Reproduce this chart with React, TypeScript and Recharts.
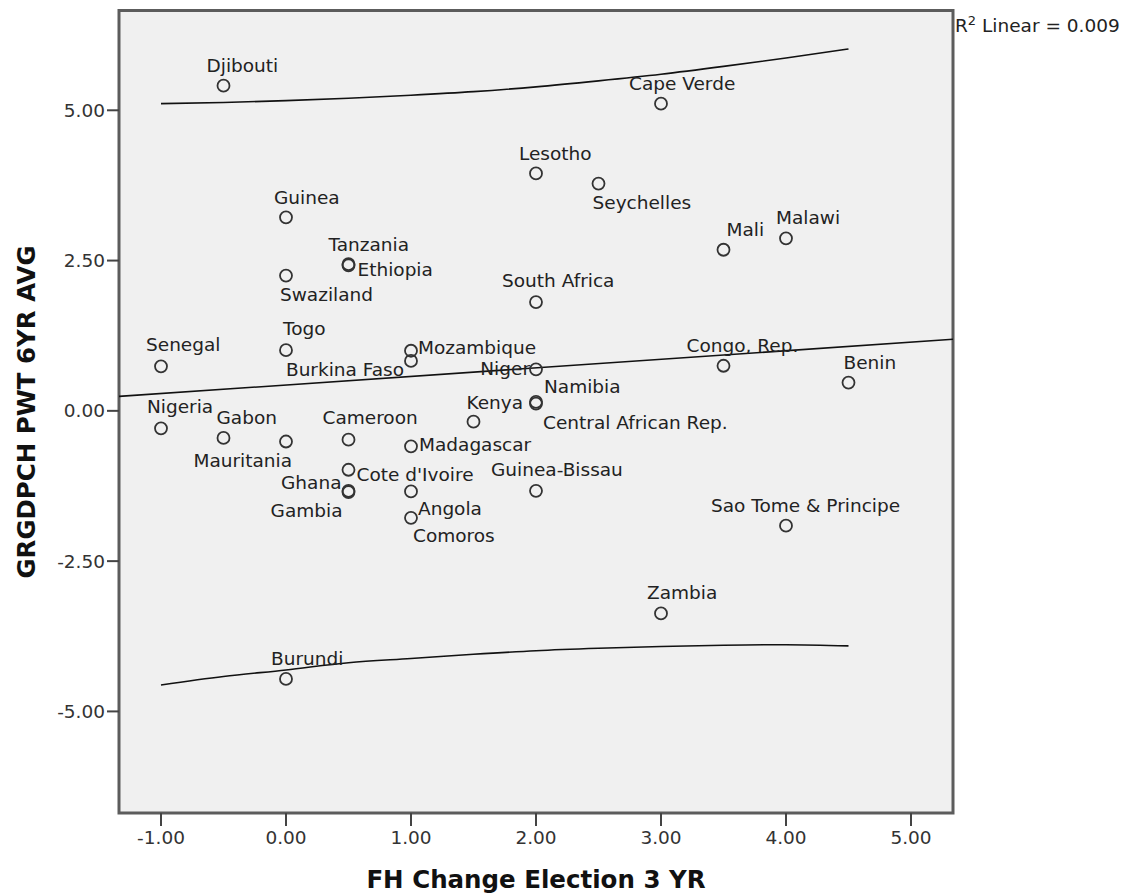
import { ScatterChart, Scatter, XAxis, YAxis, CartesianGrid, ReferenceArea } from 'recharts'

const countries = [
  'Djibouti', 'Guinea', 'Tanzania', 'Ethiopia', 'Swaziland', 'Cape Verde', 'Lesotho', 'Seychelles',
  'Mali', 'Malawi', 'South Africa', 'Senegal', 'Togo', 'Mozambique', 'Burkina Faso', 'Niger',
  'Nigeria', 'Gabon', 'Mauritania', 'Cameroon', 'Kenya', 'Namibia', 'Central African Rep.',
  'Madagascar', "Cote d'Ivoire", 'Ghana', 'Gambia', 'Angola', 'Comoros', 'Guinea-Bissau',
  'Congo, Rep.', 'Benin', 'Sao Tome & Principe', 'Zambia', 'Burundi'
]
const fhChange = [
  -0.5, 0, 0.5, 0.5, 0, 3, 2, 2.5,
  3.5, 4, 2, -1, 0, 1, 1, 2,
  -1, -0.5, 0, 0.5, 1.5, 2, 2,
  1, 0.5, 0.5, 0.5, 1, 1, 2,
  3.5, 4.5, 4, 3, 0
]
const gdpGrowth = [
  5.41, 3.22, 2.44, 2.42, 2.25, 5.11, 3.95, 3.78,
  2.68, 2.87, 1.81, 0.74, 1.01, 1.0, 0.83, 0.69,
  -0.29, -0.45, -0.51, -0.48, -0.18, 0.15, 0.12,
  -0.59, -0.98, -1.33, -1.35, -1.34, -1.78, -1.33,
  0.75, 0.47, -1.91, -3.37, -4.46
]

// fit line and prediction interval
const fitX = [-1.336, 5.336]
const fitY = [0.24, 1.19]
const bandX = [-1, -0.5, 0, 0.5, 1, 1.5, 2, 2.5, 3, 3.5, 4, 4.5]
const upperBand = [5.11, 5.13, 5.16, 5.2, 5.25, 5.31, 5.39, 5.49, 5.6, 5.73, 5.87, 6.02]
const lowerBand = [-4.56, -4.42, -4.31, -4.19, -4.12, -4.05, -3.99, -3.95, -3.92, -3.9, -3.89, -3.91]

const xTicks = [-1, 0, 1, 2, 3, 4, 5]
const yTicks = [-5, -2.5, 0, 2.5, 5]

const X_DOMAIN: [number, number] = [-1.336, 5.336]
const Y_DOMAIN: [number, number] = [-6.69, 6.66]

// label offsets from point centre: dx to text start (or end), dy to baseline
const labelPlacement: Record<string, { dx: number; dy: number; end?: boolean }> = {
  Djibouti: { dx: -17, dy: -14 },
  Guinea: { dx: -12, dy: -13 },
  Tanzania: { dx: -20, dy: -13 },
  Ethiopia: { dx: 9, dy: 11 },
  Swaziland: { dx: -6, dy: 25 },
  'Cape Verde': { dx: -32, dy: -14 },
  Lesotho: { dx: -17, dy: -13 },
  Seychelles: { dx: -6, dy: 25 },
  Mali: { dx: 3, dy: -14 },
  Malawi: { dx: -10, dy: -14 },
  'South Africa': { dx: -34, dy: -15 },
  Senegal: { dx: -15, dy: -15 },
  Togo: { dx: -3, dy: -15 },
  Mozambique: { dx: 7, dy: 3 },
  'Burkina Faso': { dx: -7, dy: 15, end: true },
  Niger: { dx: -6, dy: 6, end: true },
  Nigeria: { dx: -14, dy: -15 },
  Gabon: { dx: -7, dy: -14 },
  Mauritania: { dx: 6, dy: 25, end: true },
  Cameroon: { dx: -26, dy: -16 },
  Kenya: { dx: -7, dy: -13 },
  Namibia: { dx: 8, dy: -9 },
  'Central African Rep.': { dx: 7, dy: 25 },
  Madagascar: { dx: 8, dy: 5 },
  "Cote d'Ivoire": { dx: 8, dy: 11 },
  Ghana: { dx: -7, dy: -2, end: true },
  Gambia: { dx: -6, dy: 25, end: true },
  Angola: { dx: 7, dy: 24 },
  Comoros: { dx: 2, dy: 24 },
  'Guinea-Bissau': { dx: -45, dy: -15 },
  'Congo, Rep.': { dx: -37, dy: -14 },
  Benin: { dx: -5, dy: -14 },
  'Sao Tome & Principe': { dx: -75, dy: -14 },
  Zambia: { dx: -14, dy: -14 },
  Burundi: { dx: -15, dy: -14 }
}

const points = countries.map((name, i) => ({ name, x: fhChange[i], y: gdpGrowth[i] }))
const fitData = fitX.map((x, i) => ({ x, y: fitY[i] }))
const upperData = bandX.map((x, i) => ({ x, y: upperBand[i] }))
const lowerData = bandX.map((x, i) => ({ x, y: lowerBand[i] }))

const FONT = '"DejaVu Sans", sans-serif'

function CountryPoint(props: any) {
  const { cx, cy, payload } = props
  const p = labelPlacement[payload.name] ?? { dx: 8, dy: -8 }
  return (
    <g>
      <circle cx={cx} cy={cy} r={6} fill="none" stroke="#333" strokeWidth={1.8} />
      <text
        x={cx + p.dx}
        y={cy + p.dy}
        textAnchor={p.end ? 'end' : 'start'}
        fontFamily={FONT}
        fontSize={18.5}
        fill="#222"
      >
        {payload.name}
      </text>
    </g>
  )
}

const noShape = () => <g />

export default function App() {
  const fmt = (v: number) => v.toFixed(2)
  const tickStyle = { fill: '#333', fontSize: 18.5, fontFamily: FONT }

  return (
    <div style={{ position: 'relative', width: 1130, height: 887 }}>
      <ScatterChart width={1130} height={887} margin={{ top: 2.5, right: 185, bottom: 0, left: 0 }}>
        <CartesianGrid horizontal={false} vertical={false} fill="#f0f0f0" />
        <XAxis
          type="number"
          dataKey="x"
          domain={X_DOMAIN}
          allowDataOverflow
          ticks={xTicks}
          tickFormatter={fmt}
          height={82}
          axisLine={false}
          tickSize={13}
          tickMargin={5}
          tickLine={{ stroke: '#444', strokeWidth: 2 }}
          tick={tickStyle}
        />
        <YAxis
          type="number"
          dataKey="y"
          domain={Y_DOMAIN}
          allowDataOverflow
          ticks={yTicks}
          tickFormatter={fmt}
          width={111}
          axisLine={false}
          tickSize={12}
          tickMargin={2}
          tickLine={{ stroke: '#444', strokeWidth: 2 }}
          tick={tickStyle}
        />
        <ReferenceArea
          x1={X_DOMAIN[0]}
          x2={X_DOMAIN[1]}
          y1={Y_DOMAIN[0]}
          y2={Y_DOMAIN[1]}
          fill="none"
          stroke="#5c5c5c"
          strokeWidth={3}
        />
        <Scatter data={fitData} line={{ stroke: '#111', strokeWidth: 1.6 }} shape={noShape} isAnimationActive={false} />
        <Scatter data={upperData} line={{ stroke: '#111', strokeWidth: 1.6 }} lineJointType="monotoneX" shape={noShape} isAnimationActive={false} />
        <Scatter data={lowerData} line={{ stroke: '#111', strokeWidth: 1.6 }} lineJointType="monotoneX" shape={noShape} isAnimationActive={false} />
        <Scatter data={points} shape={CountryPoint} isAnimationActive={false} />
      </ScatterChart>
      <svg
        width={1130}
        height={887}
        style={{ position: 'absolute', left: 0, top: 0, pointerEvents: 'none' }}
      >
        <text
          transform="translate(27, 404) rotate(-90)"
          textAnchor="middle"
          fontFamily={FONT}
          fontWeight="bold"
          fontSize={24.5}
          fill="#111"
        >
          GRGDPCH PWT 6YR AVG
        </text>
        <text x={528} y={880} textAnchor="middle" fontFamily={FONT} fontWeight="bold" fontSize={24.5} fill="#111">
          FH Change Election 3 YR
        </text>
        <text x={947} y={24} fontFamily={FONT} fontSize={18.5} fill="#222">
          R
          <tspan fontSize={13} dy={-7}>2</tspan>
          <tspan dy={7}> Linear = 0.009</tspan>
        </text>
      </svg>
    </div>
  )
}
